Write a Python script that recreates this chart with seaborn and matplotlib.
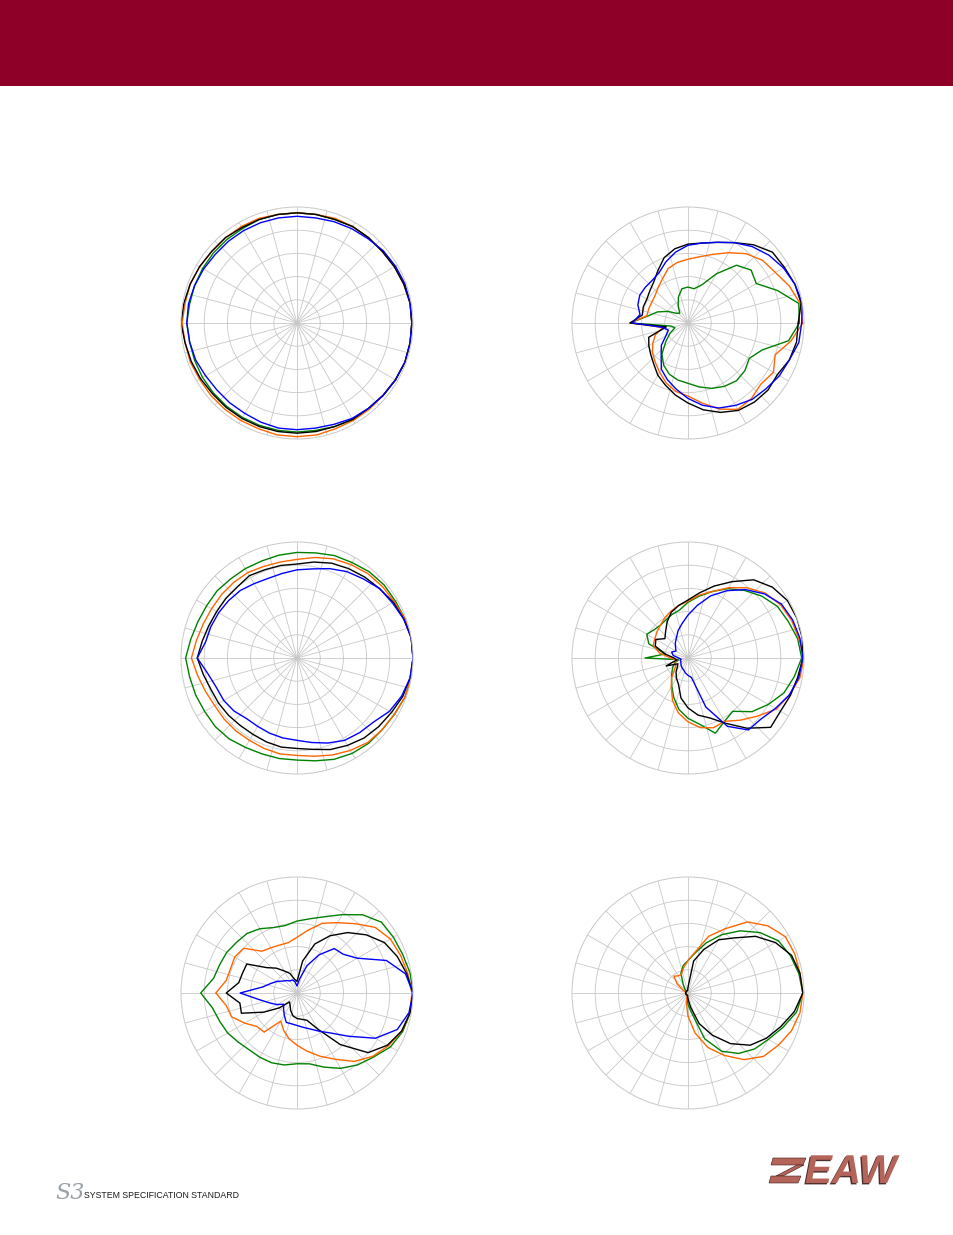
import numpy as np
import pandas as pd
import seaborn as sns
import matplotlib.pyplot as plt
import matplotlib.patheffects as pe
from matplotlib.patches import Rectangle, Polygon

# polar response, normalised radius (0 = centre, 1 = outer ring), every 10 deg from 0 (on-axis, right) CCW
angles = list(range(0, 360, 10))

p1_green = [0.99, 0.99, 0.98, 0.97, 0.96, 0.96, 0.96, 0.95, 0.95, 0.95, 0.95, 0.95, 0.94, 0.94, 0.94, 0.94, 0.94, 0.94, 0.95,
            0.94, 0.94, 0.94, 0.94, 0.94, 0.94, 0.94, 0.94, 0.94, 0.94, 0.95, 0.96, 0.96, 0.97, 0.98, 0.99, 0.99]
p1_orange = [0.99, 0.99, 0.98, 0.97, 0.96, 0.96, 0.96, 0.96, 0.95, 0.95, 0.95, 0.96, 0.96, 0.96, 0.96, 0.97, 0.98, 0.98, 0.99,
             0.98, 0.98, 0.97, 0.97, 0.97, 0.97, 0.97, 0.98, 0.98, 0.98, 0.97, 0.97, 0.97, 0.97, 0.98, 0.99, 0.99]
p1_black = [0.99, 0.99, 0.98, 0.97, 0.96, 0.96, 0.96, 0.95, 0.95, 0.95, 0.95, 0.95, 0.95, 0.96, 0.96, 0.97, 0.98, 0.99, 1.00,
            0.98, 0.97, 0.96, 0.95, 0.95, 0.95, 0.95, 0.95, 0.95, 0.95, 0.95, 0.96, 0.96, 0.97, 0.98, 0.99, 0.99]
p1_blue = [0.99, 0.99, 0.99, 0.98, 0.97, 0.95, 0.94, 0.93, 0.92, 0.92, 0.92, 0.92, 0.92, 0.92, 0.92, 0.93, 0.94, 0.95, 0.95,
           0.94, 0.93, 0.91, 0.90, 0.90, 0.90, 0.91, 0.92, 0.92, 0.92, 0.93, 0.95, 0.96, 0.97, 0.98, 0.99, 0.99]

p2_green = [0.96, 0.97, 0.82, 0.68, 0.71, 0.65, 0.49, 0.35, 0.30, 0.31, 0.30, 0.24, 0.17, 0.11, 0.13, 0.20, 0.28, 0.35, 0.50,
            0.15, 0.12, 0.18, 0.25, 0.35, 0.42, 0.47, 0.50, 0.52, 0.56, 0.60, 0.63, 0.65, 0.64, 0.61, 0.68, 0.88]
p2_orange = [0.99, 0.98, 0.93, 0.87, 0.84, 0.78, 0.70, 0.63, 0.58, 0.55, 0.53, 0.50, 0.44, 0.40, 0.37, 0.36, 0.36, 0.36, 0.50,
             0.22, 0.30, 0.35, 0.40, 0.44, 0.49, 0.55, 0.60, 0.63, 0.70, 0.79, 0.86, 0.85, 0.82, 0.85, 0.80, 0.90]
p2_black = [0.95, 0.99, 0.98, 0.96, 0.95, 0.88, 0.80, 0.74, 0.70, 0.68, 0.65, 0.60, 0.52, 0.46, 0.43, 0.41, 0.41, 0.40, 0.50,
            0.19, 0.36, 0.39, 0.42, 0.46, 0.52, 0.57, 0.63, 0.69, 0.76, 0.82, 0.87, 0.89, 0.90, 0.89, 0.93, 0.95]
p2_blue = [0.98, 1.00, 0.98, 0.95, 0.91, 0.86, 0.80, 0.74, 0.70, 0.67, 0.62, 0.56, 0.50, 0.48, 0.48, 0.48, 0.46, 0.42, 0.48,
           0.22, 0.18, 0.22, 0.30, 0.36, 0.46, 0.52, 0.58, 0.65, 0.72, 0.78, 0.82, 0.86, 0.88, 0.91, 0.93, 0.97]

p3_green = [1.00, 1.00, 0.99, 0.98, 0.98, 0.97, 0.95, 0.94, 0.92, 0.91, 0.90, 0.89, 0.89, 0.89, 0.90, 0.90, 0.91, 0.93, 0.96,
            0.94, 0.93, 0.92, 0.92, 0.91, 0.89, 0.88, 0.88, 0.88, 0.90, 0.93, 0.95, 0.96, 0.96, 0.97, 0.99, 1.00]
p3_orange = [1.00, 1.00, 0.99, 0.97, 0.96, 0.95, 0.93, 0.91, 0.88, 0.85, 0.84, 0.84, 0.85, 0.85, 0.85, 0.85, 0.86, 0.88, 0.91,
             0.87, 0.84, 0.82, 0.82, 0.82, 0.82, 0.83, 0.84, 0.84, 0.86, 0.89, 0.92, 0.95, 0.96, 0.97, 0.99, 1.00]
p3_black = [1.00, 1.00, 0.98, 0.96, 0.93, 0.91, 0.89, 0.87, 0.84, 0.81, 0.81, 0.81, 0.82, 0.80, 0.80, 0.80, 0.81, 0.83, 0.86,
            0.82, 0.79, 0.78, 0.77, 0.76, 0.76, 0.77, 0.78, 0.78, 0.80, 0.84, 0.87, 0.90, 0.92, 0.94, 0.97, 0.99]
p3_blue = [1.00, 1.00, 0.98, 0.95, 0.93, 0.89, 0.86, 0.82, 0.78, 0.76, 0.74, 0.73, 0.74, 0.76, 0.77, 0.78, 0.79, 0.80, 0.86,
           0.78, 0.74, 0.73, 0.71, 0.68, 0.68, 0.69, 0.70, 0.71, 0.74, 0.78, 0.82, 0.84, 0.86, 0.92, 0.96, 0.99]

p4_green = [0.98, 0.96, 0.92, 0.89, 0.83, 0.76, 0.69, 0.61, 0.54, 0.48, 0.42, 0.40, 0.38, 0.37, 0.38, 0.41, 0.36, 0.20, 0.37,
            0.08, 0.12, 0.15, 0.18, 0.22, 0.28, 0.36, 0.45, 0.52, 0.58, 0.69, 0.63, 0.60, 0.72, 0.80, 0.88, 0.93]
p4_orange = [1.00, 0.97, 0.95, 0.92, 0.87, 0.79, 0.70, 0.61, 0.55, 0.49, 0.46, 0.43, 0.40, 0.37, 0.35, 0.33, 0.32, 0.25, 0.15,
             0.10, 0.12, 0.12, 0.15, 0.22, 0.29, 0.39, 0.48, 0.55, 0.61, 0.64, 0.63, 0.70, 0.78, 0.88, 0.93, 0.98]
p4_black = [0.99, 1.00, 1.00, 0.99, 0.95, 0.88, 0.76, 0.66, 0.57, 0.50, 0.46, 0.42, 0.36, 0.30, 0.26, 0.32, 0.30, 0.20, 0.12,
            0.10, 0.20, 0.10, 0.12, 0.16, 0.20, 0.24, 0.35, 0.43, 0.50, 0.55, 0.65, 0.79, 0.93, 0.92, 0.94, 0.96]
p4_blue = [0.99, 0.98, 0.96, 0.93, 0.86, 0.77, 0.67, 0.57, 0.46, 0.37, 0.30, 0.25, 0.20, 0.17, 0.14, 0.12, 0.15, 0.13, 0.08,
           0.06, 0.07, 0.07, 0.08, 0.09, 0.10, 0.11, 0.13, 0.15, 0.17, 0.45, 0.68, 0.81, 0.82, 0.87, 0.93, 0.97]

p5_green = [1.00, 0.99, 0.97, 0.96, 0.95, 0.88, 0.78, 0.70, 0.65, 0.62, 0.59, 0.60, 0.64, 0.67, 0.68, 0.70, 0.71, 0.73, 0.83,
            0.74, 0.71, 0.69, 0.66, 0.64, 0.64, 0.64, 0.63, 0.61, 0.62, 0.68, 0.75, 0.81, 0.86, 0.93, 0.97, 0.99]
p5_orange = [0.99, 0.97, 0.95, 0.93, 0.88, 0.78, 0.70, 0.64, 0.55, 0.48, 0.44, 0.44, 0.45, 0.47, 0.60, 0.62, 0.61, 0.62, 0.70,
             0.62, 0.60, 0.52, 0.45, 0.44, 0.28, 0.34, 0.40, 0.45, 0.51, 0.58, 0.66, 0.77, 0.85, 0.91, 0.96, 0.99]
p5_black = [1.00, 0.96, 0.92, 0.87, 0.78, 0.68, 0.57, 0.45, 0.28, 0.10, 0.12, 0.18, 0.22, 0.28, 0.34, 0.50, 0.50, 0.51, 0.61,
            0.50, 0.51, 0.33, 0.20, 0.10, 0.12, 0.16, 0.20, 0.22, 0.23, 0.25, 0.36, 0.58, 0.80, 0.90, 0.96, 0.99]
p5_blue = [1.00, 0.95, 0.82, 0.60, 0.52, 0.50, 0.38, 0.25, 0.12, 0.06, 0.10, 0.12, 0.12, 0.14, 0.16, 0.20, 0.24, 0.30, 0.49,
           0.33, 0.25, 0.20, 0.15, 0.18, 0.22, 0.27, 0.27, 0.28, 0.30, 0.33, 0.38, 0.45, 0.58, 0.78, 0.92, 0.98]

p6_green = [0.99, 0.97, 0.94, 0.90, 0.81, 0.70, 0.58, 0.46, 0.35, 0.28, 0.24, 0.18, 0.08, 0.04, 0.02, 0.02, 0.02, 0.02, 0.02,
            0.02, 0.02, 0.02, 0.02, 0.02, 0.02, 0.02, 0.05, 0.10, 0.17, 0.42, 0.58, 0.68, 0.75, 0.80, 0.87, 0.95]
p6_orange = [0.99, 0.98, 0.98, 0.97, 0.90, 0.80, 0.64, 0.52, 0.36, 0.28, 0.22, 0.17, 0.17, 0.19, 0.12, 0.05, 0.02, 0.02, 0.02,
             0.02, 0.02, 0.02, 0.02, 0.02, 0.02, 0.02, 0.08, 0.20, 0.35, 0.50, 0.62, 0.75, 0.85, 0.90, 0.95, 0.98]
p6_black = [0.99, 0.98, 0.95, 0.87, 0.76, 0.62, 0.53, 0.40, 0.28, 0.05, 0.02, 0.02, 0.02, 0.02, 0.02, 0.02, 0.02, 0.02, 0.02,
            0.02, 0.02, 0.02, 0.02, 0.02, 0.02, 0.02, 0.02, 0.05, 0.12, 0.28, 0.42, 0.57, 0.70, 0.78, 0.85, 0.93]

panels = [
    {'green': p1_green, 'orange': p1_orange, 'black': p1_black, 'blue': p1_blue},
    {'green': p2_green, 'orange': p2_orange, 'black': p2_black, 'blue': p2_blue},
    {'green': p3_green, 'orange': p3_orange, 'black': p3_black, 'blue': p3_blue},
    {'green': p4_green, 'orange': p4_orange, 'black': p4_black, 'blue': p4_blue},
    {'green': p5_green, 'orange': p5_orange, 'black': p5_black, 'blue': p5_blue},
    {'green': p6_green, 'orange': p6_orange, 'black': p6_black},
]
colors = {'green': '#008000', 'orange': '#FF6600', 'black': '#000000', 'blue': '#0000FF'}

# pixel centres of the six plots
centres = [(297, 323), (688, 323), (297, 658), (688, 658), (297, 993), (688, 993)]
R = 116
W, H = 954, 1235

sns.set_style('white')
fig = plt.figure(figsize=(W / 100, H / 100), dpi=100)

fig.patches.append(Rectangle((0, 1 - 86 / H), 1, 86 / H, transform=fig.transFigure,
                             facecolor='#8E0028', edgecolor='none'))

theta = np.deg2rad(angles + [360])
for (cx, cy), curves in zip(centres, panels):
    ax = fig.add_axes([(cx - R) / W, (H - cy - R) / H, 2 * R / W, 2 * R / H], projection='polar')
    rows = []
    for name, vals in curves.items():
        rows.append(pd.DataFrame({'theta': theta, 'level': vals + vals[:1], 'series': name}))
    df = pd.concat(rows, ignore_index=True)
    sns.lineplot(data=df, x='theta', y='level', hue='series', hue_order=list(curves.keys()),
                 palette=colors, sort=False, estimator=None, legend=False, linewidth=1.0, ax=ax)
    ax.set_ylim(0, 1)
    ax.set_thetagrids(range(0, 360, 15), labels=[])
    ax.set_rgrids([0.2, 0.4, 0.6, 0.8], labels=[])
    ax.grid(color='#c8c8c8', linewidth=0.6)
    ax.spines['polar'].set_color('#c8c8c8')
    ax.spines['polar'].set_linewidth(0.7)
    ax.set_xlabel('')
    ax.set_ylabel('')
    ax.set_facecolor('none')

# footer logos
fig.text(55 / W, 1 - 1199 / H, 'S3', fontsize=16, family='DejaVu Serif', style='italic', color='#9aa0a8')
fig.text(84 / W, 1 - 1198 / H, 'SYSTEM SPECIFICATION STANDARD', fontsize=6.3, family='Liberation Sans',
         color='#1a1a1a')

logo = '#B5645A'
icon = [
    [(773, 1158), (806, 1158), (803, 1165), (771, 1165)],
    [(797, 1165), (804, 1165), (783, 1176), (776, 1176)],
    [(771, 1176), (801, 1176), (798, 1183), (769, 1183)],
]
for pts in icon:
    fig.patches.append(Polygon([(x / W, 1 - y / H) for x, y in pts], closed=True, transform=fig.transFigure,
                               facecolor=logo, edgecolor='#3a1a18', linewidth=0.4))
fig.text(805 / W, 1 - 1183 / H, 'EAW', fontsize=29, family='Liberation Sans', weight='bold', style='italic',
         color=logo, path_effects=[pe.withSimplePatchShadow(offset=(-1, -1), shadow_rgbFace='#3a1a18', alpha=0.9)])

fig.savefig('out.png', dpi=100)
